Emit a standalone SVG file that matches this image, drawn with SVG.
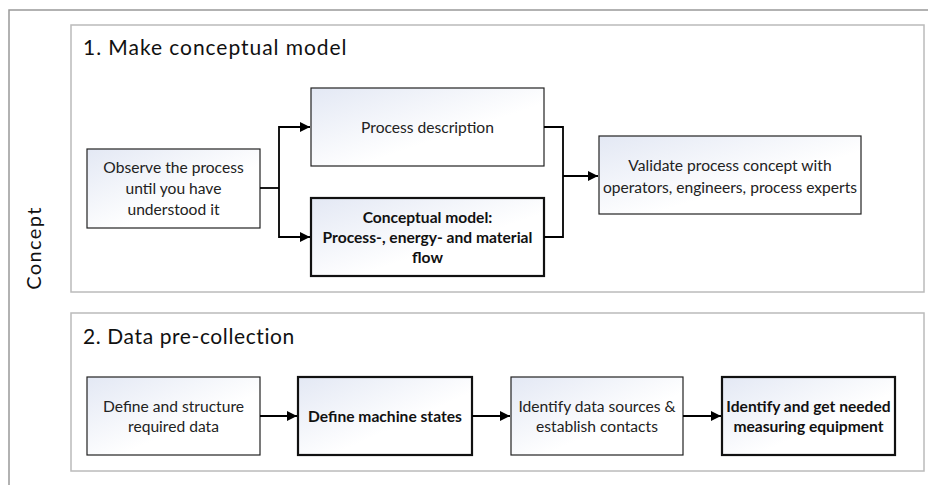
<svg xmlns="http://www.w3.org/2000/svg" width="928" height="485" viewBox="0 0 928 485">
<defs>
<linearGradient id="g" x1="0" y1="0" x2="1" y2="1">
<stop offset="0" stop-color="#e3e8f4"/>
<stop offset="0.6" stop-color="#ffffff"/>
<stop offset="1" stop-color="#ffffff"/>
</linearGradient>
<marker id="a" viewBox="0 0 10 10" refX="10" refY="5" markerWidth="10" markerHeight="10" markerUnits="userSpaceOnUse" orient="auto">
<path d="M0,0 L10,5 L0,10 Z" fill="#000"/>
</marker>
<style>
.t{font-family:Lato,"Liberation Sans",sans-serif;font-size:15.6px;fill:#222;text-anchor:middle}
.b{font-weight:bold;fill:#111}
.h{font-family:Lato,"Liberation Sans",sans-serif;font-size:21px;fill:#111}
.box{fill:url(#g);stroke:#222;stroke-width:1.2}
.thick{stroke:#111;stroke-width:2.2}
.panel{fill:#fff;stroke:#bbb;stroke-width:1.5}
.c{fill:none;stroke:#000;stroke-width:1.8;marker-end:url(#a)}
.cn{fill:none;stroke:#000;stroke-width:1.8}
</style>
</defs>
<rect width="928" height="485" fill="#fff"/>
<path d="M928,10 H9 V485" fill="none" stroke="#999" stroke-width="1.5"/>
<text class="h" transform="translate(41,248) rotate(-90)" text-anchor="middle" letter-spacing="1.4" style="font-size:20px">Concept</text>
<g id="panel1">
<rect class="panel" x="71" y="25" width="853" height="267"/>
<text class="h" x="83" y="55" letter-spacing="0.95">1. Make conceptual model</text>
</g>
<g id="panel2">
<rect class="panel" x="71" y="313" width="853" height="158"/>
<text class="h" x="83" y="344" letter-spacing="0.6">2. Data pre-collection</text>
</g>
<g id="observe">
<rect class="box" x="87" y="149" width="173" height="79"/>
<text class="t" x="173.5" y="173">Observe the process</text>
<text class="t" x="173.5" y="194">until you have</text>
<text class="t" x="173.5" y="215">understood it</text>
</g>
<g id="procdesc">
<rect class="box" x="311" y="88" width="233" height="78"/>
<text class="t" x="427.5" y="133">Process description</text>
</g>
<g id="concmodel">
<rect class="box thick" x="311" y="198" width="233" height="78"/>
<text class="t b" x="427.5" y="223">Conceptual model:</text>
<text class="t b" x="427.5" y="243">Process-, energy- and material</text>
<text class="t b" x="427.5" y="263">flow</text>
</g>
<g id="validate">
<rect class="box" x="599" y="136" width="262" height="78"/>
<text class="t" x="730" y="171">Validate process concept with</text>
<text class="t" x="730" y="193">operators, engineers, process experts</text>
</g>
<g id="definedata">
<rect class="box" x="87" y="377" width="173" height="78"/>
<text class="t" x="173.5" y="412">Define and structure</text>
<text class="t" x="173.5" y="432">required data</text>
</g>
<g id="machinestates">
<rect class="box thick" x="298" y="377" width="174" height="78"/>
<text class="t b" x="385" y="422">Define machine states</text>
</g>
<g id="datasources">
<rect class="box" x="511" y="377" width="172" height="78"/>
<text class="t" x="597" y="412">Identify data sources &amp;</text>
<text class="t" x="597" y="432">establish contacts</text>
</g>
<g id="equipment">
<rect class="box thick" x="722" y="377" width="173" height="78"/>
<text class="t b" x="808.5" y="412">Identify and get needed</text>
<text class="t b" x="808.5" y="432">measuring equipment</text>
</g>
<g id="connectors">
<path class="cn" d="M260,188 H279"/>
<path class="c" d="M279,188 V127 H310"/>
<path class="c" d="M279,188 V237 H310"/>
<path class="cn" d="M544,127 H563 V237 H544"/>
<path class="c" d="M563,176 H598"/>
<path class="c" d="M260,416 H297"/>
<path class="c" d="M472,416 H510"/>
<path class="c" d="M683,416 H721"/>
</g>
</svg>
